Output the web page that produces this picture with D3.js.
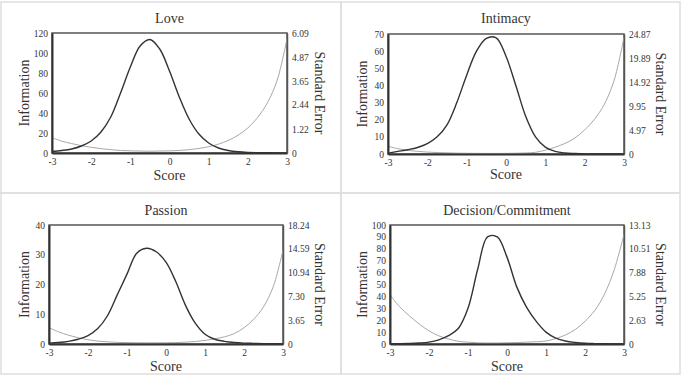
<!DOCTYPE html>
<html>
<head>
<meta charset="utf-8">
<style>
    body { margin: 0; background: #fff; }
    text { font-family: "Liberation Serif", "DejaVu Serif", serif; fill: #333; }
</style>
</head>
<body>
<div id="vis"></div>

<script src="https://d3js.org/d3.v7.min.js"></script>
<script>
    let scores = [-3, -2.75, -2.5, -2.25, -2, -1.75, -1.5, -1.25, -1, -0.75, -0.5, -0.25, 0,
        0.25, 0.5, 0.75, 1, 1.25, 1.5, 1.75, 2, 2.25, 2.5, 2.75, 3];
    let xTicks = [-3, -2, -1, 0, 1, 2, 3];

    // Love
    let loveInfo = [1.5, 2.5, 4, 7, 12, 21, 36, 60, 86, 107, 113.5, 104, 82,
        56, 34, 19, 10, 5, 2.5, 1.2, 0.6, 0.35, 0.2, 0.12, 0.1];
    let loveSE = [0.78, 0.6, 0.48, 0.37, 0.29, 0.22, 0.17, 0.13, 0.11, 0.1, 0.09, 0.1, 0.11,
        0.13, 0.17, 0.23, 0.32, 0.45, 0.64, 0.9, 1.27, 1.8, 2.55, 3.7, 5.8];
    let loveLeftTicks = [0, 20, 40, 60, 80, 100, 120];
    let loveRightTicks = ["0", "1.22", "2.44", "3.65", "4.87", "6.09"];

    // Intimacy
    let intimacyInfo = [0.5, 1.5, 2.5, 3.8, 6, 10, 17, 30, 46, 60, 67.5, 67.8, 57,
        40, 22, 10, 4, 1.5, 0.6, 0.3, 0.1, 0.05, 0.03, 0.02, 0.01];
    let intimacySE = [1.6, 1.1, 0.75, 0.55, 0.4, 0.3, 0.24, 0.18, 0.15, 0.13, 0.12, 0.12, 0.13,
        0.16, 0.22, 0.35, 0.8, 1.4, 2.2, 3.3, 5.0, 7.2, 10.3, 15.3, 24.2];
    let intimacyLeftTicks = [0, 10, 20, 30, 40, 50, 60, 70];
    let intimacyRightTicks = ["0", "4.97", "9.95", "14.92", "19.89", "24.87"];

    // Passion
    let passionInfo = [0.3, 0.5, 0.9, 1.6, 2.8, 5.2, 9.5, 16.5, 23.5, 30.5, 32.2, 31, 27.5,
        21, 13, 7, 3.3, 1.6, 0.9, 0.5, 0.3, 0.2, 0.1, 0.07, 0.05];
    let passionSE = [2.5, 1.85, 1.35, 0.95, 0.65, 0.45, 0.33, 0.25, 0.21, 0.19, 0.18, 0.18, 0.19,
        0.22, 0.28, 0.38, 0.55, 0.8, 1.1, 1.6, 2.5, 3.8, 5.7, 8.8, 14.4];
    let passionLeftTicks = [0, 10, 20, 30, 40];
    let passionRightTicks = ["0", "3.65", "7.30", "10.94", "14.59", "18.24"];

    // Decision/Commitment
    let decisionInfo = [0.1, 0.2, 0.4, 0.8, 1.6, 3.5, 7, 13, 30, 63, 90, 90, 73,
        48, 31, 19, 10, 5, 2.5, 1.3, 0.6, 0.35, 0.2, 0.12, 0.1];
    let decisionSE = [5.4, 4.1, 3.1, 2.2, 1.45, 0.9, 0.55, 0.3, 0.2, 0.13, 0.11, 0.11, 0.13,
        0.16, 0.2, 0.25, 0.33, 0.6, 1.0, 1.6, 2.5, 3.7, 5.5, 8.2, 12.1];
    let decisionLeftTicks = [0, 10, 20, 30, 40, 50, 60, 70, 80, 90, 100];
    let decisionRightTicks = ["0", "2.63", "5.25", "7.88", "10.51", "13.13"];

    let width = 683, height = 376;

    let svg = d3.select("#vis")
        .append("svg")
        .attr("width", width)
        .attr("height", height);

    // panel boxes (light grey frames)
    let boxes = [[1, 2, 340, 191], [341, 2, 339, 191], [1, 193, 340, 181], [341, 193, 339, 181]];
    svg.selectAll(".box")
        .data(boxes)
        .enter()
        .append("rect")
        .attr("x", d => d[0])
        .attr("y", d => d[1])
        .attr("width", d => d[2])
        .attr("height", d => d[3])
        .attr("fill", "none")
        .attr("stroke", "#dedede")
        .attr("stroke-width", 1.5);

    let panels = [
        {id: "love", title: "Love", left: 52, right: 287, top: 33, bottom: 153, titleY: 23, scoreY: 180,
            infoX: 24, seX: 320, info: loveInfo, se: loveSE, lt: loveLeftTicks, rt: loveRightTicks},
        {id: "intimacy", title: "Intimacy", left: 388, right: 624, top: 34, bottom: 154, titleY: 23, scoreY: 179,
            infoX: 362, seX: 661, info: intimacyInfo, se: intimacySE, lt: intimacyLeftTicks, rt: intimacyRightTicks},
        {id: "passion", title: "Passion", left: 49, right: 283, top: 225, bottom: 344, titleY: 215, scoreY: 371,
            infoX: 24, seX: 320, info: passionInfo, se: passionSE, lt: passionLeftTicks, rt: passionRightTicks},
        {id: "decision", title: "Decision/Commitment", left: 390, right: 624, top: 225, bottom: 344, titleY: 215, scoreY: 371,
            infoX: 362, seX: 661, info: decisionInfo, se: decisionSE, lt: decisionLeftTicks, rt: decisionRightTicks}
    ];

    panels.forEach(function(p) {
        let x = d3.scaleLinear().domain([-3, 3]).range([p.left, p.right]);
        let y = d3.scaleLinear().domain([0, d3.max(p.lt)]).range([p.bottom, p.top]);
        let rightVals = p.rt.map(Number);
        let y2 = d3.scaleLinear().domain([0, d3.max(rightVals)]).range([p.bottom, p.top]);

        let g = svg.append("g");

        // clip so the smooth curves stay inside the plot
        g.append("clipPath")
            .attr("id", "clip-" + p.id)
            .append("rect")
            .attr("x", p.left)
            .attr("y", p.top)
            .attr("width", p.right - p.left)
            .attr("height", p.bottom - p.top);

        // frame
        g.append("rect")
            .attr("x", p.left)
            .attr("y", p.top)
            .attr("width", p.right - p.left)
            .attr("height", p.bottom - p.top)
            .attr("fill", "none")
            .attr("stroke", "#555")
            .attr("stroke-width", 1.5);

        // standard error curve (light grey)
        let seLine = d3.line()
            .x((d, i) => x(scores[i]))
            .y(d => y2(d))
            .curve(d3.curveCatmullRom.alpha(0.5));
        g.append("path")
            .datum(p.se)
            .attr("clip-path", "url(#clip-" + p.id + ")")
            .attr("fill", "none")
            .attr("stroke", "#a8a8a8")
            .attr("stroke-width", 1)
            .attr("d", seLine);

        // information curve (dark)
        let infoLine = d3.line()
            .x((d, i) => x(scores[i]))
            .y(d => y(d))
            .curve(d3.curveCatmullRom.alpha(0.5));
        g.append("path")
            .datum(p.info)
            .attr("clip-path", "url(#clip-" + p.id + ")")
            .attr("fill", "none")
            .attr("stroke", "#333")
            .attr("stroke-width", 1.4)
            .attr("d", infoLine);

        // axes (plain hyphen for negatives, like the original)
        let xAxis = d3.axisBottom(x).tickValues(xTicks).tickSize(0).tickPadding(5)
            .tickFormat(d => String(d));
        let gx = g.append("g")
            .attr("transform", "translate(0," + p.bottom + ")")
            .call(xAxis);

        let yAxis = d3.axisLeft(y).tickValues(p.lt).tickSize(0).tickPadding(4)
            .tickFormat(d => String(d));
        let gy = g.append("g")
            .attr("transform", "translate(" + p.left + ",0)")
            .call(yAxis);

        let y2Axis = d3.axisRight(y2).tickValues(rightVals).tickSize(0).tickPadding(5)
            .tickFormat((d, i) => p.rt[i]);
        let gy2 = g.append("g")
            .attr("transform", "translate(" + p.right + ",0)")
            .call(y2Axis);

        [gx, gy, gy2].forEach(function(a) {
            a.attr("font-family", "'Liberation Serif', serif");
            a.select(".domain").attr("stroke", "#333").attr("stroke-width", 2);
            a.selectAll("text")
                .style("font-family", "'Liberation Serif', serif")
                .style("font-size", "9.5px")
                .attr("fill", "#444");
        });
        gy2.select(".domain").attr("stroke", "#555").attr("stroke-width", 1.5);

        // title and axis labels
        g.append("text")
            .attr("x", (p.left + p.right) / 2)
            .attr("y", p.titleY)
            .style("text-anchor", "middle")
            .style("font-size", "14px")
            .text(p.title);

        g.append("text")
            .attr("x", (p.left + p.right) / 2)
            .attr("y", p.scoreY)
            .style("text-anchor", "middle")
            .style("font-size", "14px")
            .text("Score");

        let midY = (p.top + p.bottom) / 2;
        g.append("text")
            .attr("transform", "translate(" + p.infoX + "," + midY + ") rotate(-90)")
            .attr("dy", "0.35em")
            .style("text-anchor", "middle")
            .style("font-size", "14px")
            .text("Information");

        g.append("text")
            .attr("transform", "translate(" + p.seX + "," + midY + ") rotate(90)")
            .attr("dy", "0.35em")
            .style("text-anchor", "middle")
            .style("font-size", "14px")
            .text("Standard Error");
    });
</script>
</body>
</html>
